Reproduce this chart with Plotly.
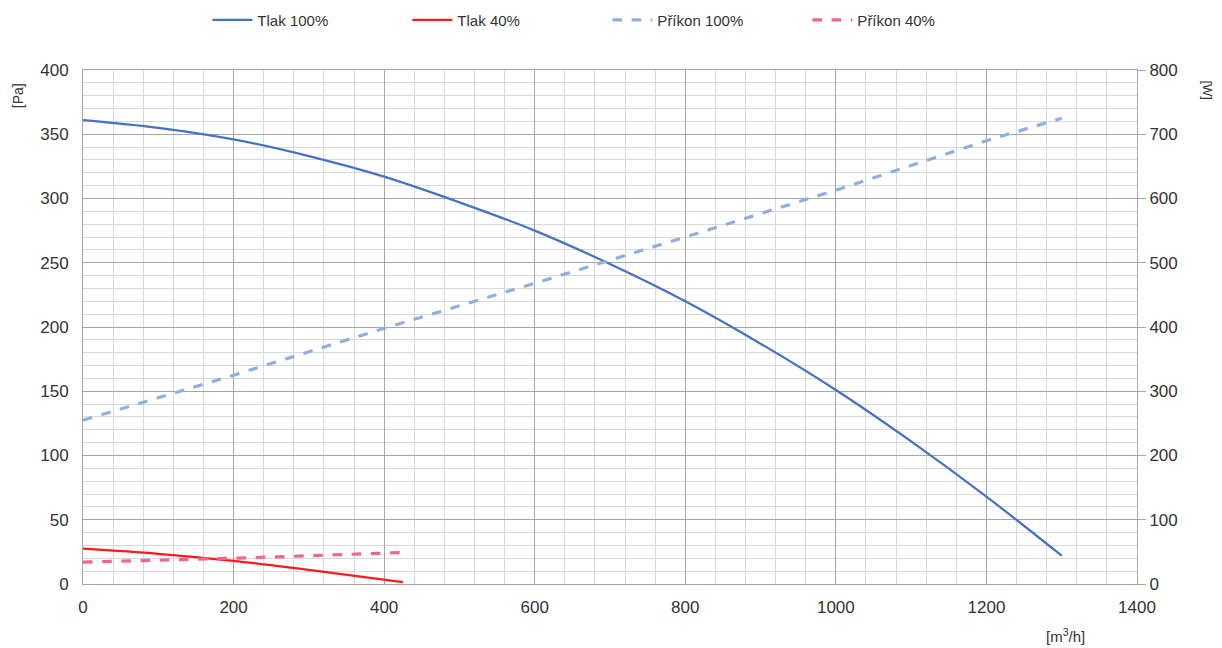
import plotly.graph_objects as go

# Data
q_tlak100 = [0, 100, 200, 300, 400, 500, 600, 700, 800, 900, 1000, 1100, 1200, 1300]
p_tlak100 = [361, 355, 346, 333, 317, 297, 275, 249, 220, 187, 151, 111, 68, 22]

q_tlak40 = [0, 100, 200, 300, 425]
p_tlak40 = [27.5, 23.5, 18, 11, 1.5]

q_prikon100 = [0, 200, 400, 600, 800, 1000, 1200, 1300]
w_prikon100 = [255, 325, 398, 468, 540, 613, 690, 725]

q_prikon40 = [0, 200, 425]
w_prikon40 = [34, 40, 49]

FONT = "Liberation Sans"
fig = go.Figure()

fig.add_trace(go.Scatter(x=q_tlak100, y=p_tlak100, name="Tlak 100%", mode="lines",
                         line=dict(color="#4472C4", width=2.2, shape="spline"), yaxis="y"))
fig.add_trace(go.Scatter(x=q_tlak40, y=p_tlak40, name="Tlak 40%", mode="lines",
                         line=dict(color="#FF1A1A", width=2.2, shape="spline"), yaxis="y"))
fig.add_trace(go.Scatter(x=q_prikon100, y=w_prikon100, name="Příkon 100%", mode="lines",
                         line=dict(color="#8FB0DE", width=3.2, dash="dash"), yaxis="y2"))
fig.add_trace(go.Scatter(x=q_prikon40, y=w_prikon40, name="Příkon 40%", mode="lines",
                         line=dict(color="#F0678A", width=3.2, dash="dash"), yaxis="y2"))

fig.update_layout(
    width=1222, height=648,
    margin=dict(l=83, r=85, t=70, b=64, autoexpand=False),
    plot_bgcolor="white", paper_bgcolor="white",
    font=dict(family=FONT, size=16, color="#333333"),
    showlegend=True,
    legend=dict(orientation="h", x=0.118, xanchor="left", y=1.097, yanchor="middle",
                font=dict(size=15, color="#333333"), entrywidth=145, itemwidth=40),
    xaxis=dict(range=[0, 1400], dtick=200, tick0=0, showgrid=True, gridcolor="#A6A6A6",
               gridwidth=1, zeroline=False, showline=True, linecolor="#A6A6A6", mirror=True,
               ticks="", tickfont=dict(size=17, color="#333333"), ticklabelstandoff=8,
               minor=dict(dtick=40, showgrid=True, gridcolor="#D9D9D9", gridwidth=1)),
    yaxis=dict(range=[0, 400], dtick=50, tick0=0, showgrid=True, gridcolor="#A6A6A6",
               gridwidth=1, zeroline=False, showline=True, linecolor="#A6A6A6",
               ticks="", tickfont=dict(size=17, color="#333333"), ticklabelstandoff=10,
               minor=dict(dtick=10, showgrid=True, gridcolor="#D9D9D9", gridwidth=1)),
    yaxis2=dict(range=[0, 800], dtick=100, tick0=0, overlaying="y", side="right",
                showgrid=False, zeroline=False, showline=True, linecolor="#A6A6A6",
                ticks="outside", ticklen=8, tickcolor="#A6A6A6",
                tickfont=dict(size=17, color="#333333")),
    annotations=[
        dict(text="[Pa]", xref="paper", yref="paper", x=-0.0617, y=0.951, textangle=-90,
             xanchor="center", yanchor="middle",
             showarrow=False, font=dict(size=14, color="#333333")),
        dict(text="[W]", xref="paper", yref="paper", x=1.067, y=0.961, textangle=90,
             xanchor="center", yanchor="middle",
             showarrow=False, font=dict(size=13, color="#333333")),
        dict(text="[m<sup>3</sup>/h]", xref="paper", yref="paper", x=0.932, y=-0.101,
             xanchor="center", yanchor="middle",
             showarrow=False, font=dict(size=15, color="#333333")),
    ],
)

fig.write_html("out.html", config={"displayModeBar": False},
               post_script="document.body.style.margin='0';document.body.style.overflow='hidden';")
